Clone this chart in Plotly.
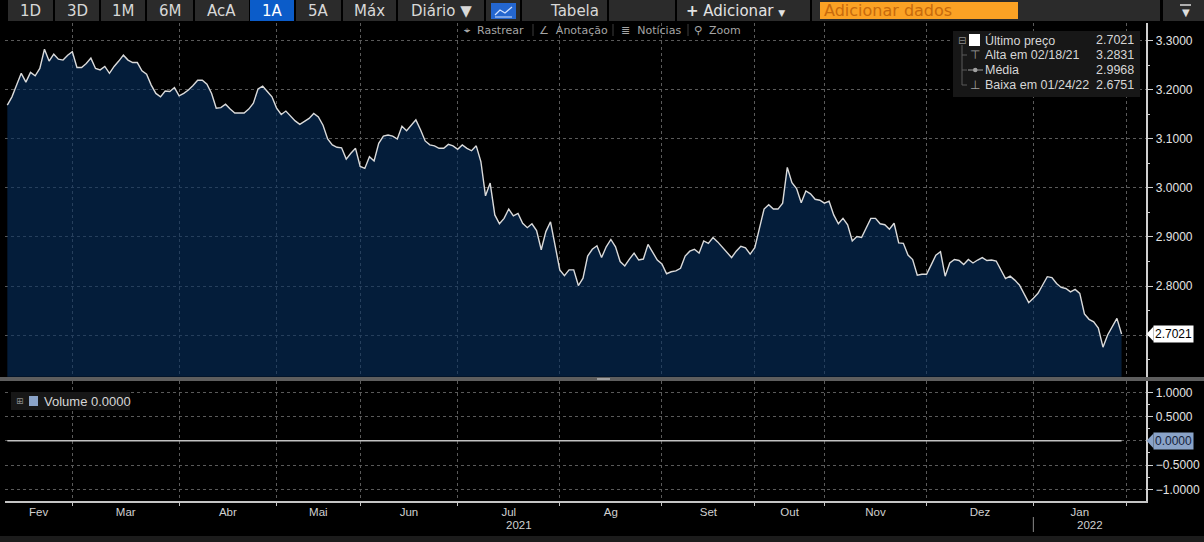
import plotly.graph_objects as go

W, H = 1204, 542

# ---------------- data ----------------
price = [
    3.169, 3.186, 3.210, 3.234, 3.216, 3.236, 3.229, 3.244, 3.2831, 3.259,
    3.273, 3.263, 3.261, 3.271, 3.278, 3.246, 3.246, 3.254, 3.265, 3.244,
    3.241, 3.248, 3.234, 3.248, 3.259, 3.271, 3.261, 3.256, 3.256, 3.239,
    3.232, 3.210, 3.193, 3.186, 3.198, 3.197, 3.205, 3.188, 3.193, 3.200,
    3.209, 3.220, 3.220, 3.212, 3.193, 3.163, 3.164, 3.171, 3.161, 3.153,
    3.153, 3.153, 3.161, 3.173, 3.202, 3.208, 3.197, 3.186, 3.163, 3.150,
    3.157, 3.146, 3.137, 3.130,
    3.136, 3.142, 3.152, 3.145, 3.128, 3.100, 3.088, 3.083, 3.082, 3.059,
    3.071, 3.081, 3.044, 3.040, 3.064, 3.055, 3.091, 3.106, 3.108, 3.106,
    3.100, 3.126, 3.117, 3.129, 3.139, 3.119, 3.096, 3.088, 3.086, 3.081,
    3.081, 3.089, 3.086, 3.079, 3.088, 3.081, 3.076, 3.086, 3.054, 2.984,
    3.010, 2.945, 2.927, 2.938, 2.957, 2.943, 2.948, 2.928, 2.919, 2.927,
    2.913, 2.874, 2.911, 2.931, 2.880, 2.833, 2.821, 2.833, 2.833, 2.801,
    2.816, 2.861,
    2.875, 2.882, 2.858, 2.880, 2.895, 2.880, 2.850, 2.841, 2.855, 2.867,
    2.853, 2.855, 2.885, 2.870, 2.853, 2.845, 2.825, 2.829, 2.831, 2.836,
    2.861, 2.871, 2.875, 2.867, 2.892, 2.887, 2.899, 2.890, 2.880, 2.868,
    2.858, 2.871, 2.881, 2.878, 2.865, 2.878, 2.918, 2.957, 2.966, 2.957,
    2.957, 2.969, 3.042, 3.011, 2.999, 2.970, 2.994, 2.988, 2.977, 2.975,
    2.969, 2.973, 2.945, 2.927, 2.938, 2.925, 2.892, 2.901, 2.899, 2.918,
    2.938, 2.938, 2.927,
    2.925, 2.916, 2.928, 2.888, 2.887, 2.863, 2.854, 2.822, 2.824, 2.824,
    2.843, 2.863, 2.870, 2.820, 2.847, 2.854, 2.852, 2.844, 2.854, 2.847,
    2.853, 2.858, 2.852, 2.853, 2.851, 2.832, 2.815, 2.820, 2.812, 2.802,
    2.785, 2.766, 2.775, 2.785, 2.802, 2.819, 2.817, 2.805, 2.797, 2.795,
    2.788, 2.793, 2.785, 2.743, 2.732, 2.727, 2.714, 2.6751, 2.700, 2.718,
    2.734, 2.7021,
]
volume = [0.0] * len(price)
days = list(range(len(price)))

month_labels = ["Fev", "Mar", "Abr", "Mai", "Jun", "Jul", "Ag", "Set", "Out", "Nov", "Dez", "Jan"]
month_starts = [14, 37, 58, 76, 97, 119, 141, 161, 176, 198, 221, 241]  # first trading day of Mar..Feb
year_labels = ["2021", "2022"]
price_ticks = [2.7, 2.8, 2.9, 3.0, 3.1, 3.2, 3.3]
volume_ticks = [-1.0, -0.5, 0.0, 0.5, 1.0]

last_price = 2.7021
legend_rows = [
    ("Último preço", "2.7021"),
    ("Alta em 02/18/21", "3.2831"),
    ("Média", "2.9968"),
    ("Baixa em 01/24/22", "2.6751"),
]
volume_legend = "Volume 0.0000"
period_buttons = ["1D", "3D", "1M", "6M", "AcA", "1A", "5A", "Máx", "Diário ▼"]
active_button = "1A"
tool_items = ["⌖  Rastrear", "∠  Anotação", "≣  Notícias", "⚲  Zoom"]

# ---------------- layout helpers ----------------
def fx(p):
    return p / W

def fy(p):
    return 1 - p / H

X_RANGE = [-0.5, 245.2]
Y_RANGE = [2.6149, 3.3367]
Y2_RANGE = [-1.234, 1.234]
GRID = "#5a5a5a"
AXC = "#cfcfcf"
FONT = "Liberation Sans"
UIFONT = "DejaVu Sans"

centers = [(X_RANGE[0] + month_starts[0]) / 2] + [
    (a + b) / 2 for a, b in zip(month_starts[:-1], month_starts[1:])
]
year_split = month_starts[-2]
year_centers = [(X_RANGE[0] + year_split) / 2, (year_split + X_RANGE[1]) / 2]

fig = go.Figure()
fig.add_trace(go.Scatter(
    x=days, y=price, mode="lines",
    line=dict(color="#dadada", width=1.4),
    fill="tozeroy", fillcolor="rgba(6,46,94,0.62)",
    xaxis="x", yaxis="y", hoverinfo="skip",
))
fig.add_trace(go.Scatter(
    x=days, y=volume, mode="lines",
    line=dict(color="#c2c2c2", width=1.5),
    xaxis="x2", yaxis="y2", hoverinfo="skip",
))

shapes = []
annotations = []

def rect(x0, y0, x1, y1, color, line=None):
    shapes.append(dict(type="rect", xref="paper", yref="paper",
                       x0=fx(x0), x1=fx(x1), y0=fy(y1), y1=fy(y0),
                       fillcolor=color, line=dict(width=0) if line is None else line,
                       layer="above"))

def seg(x0, y0, x1, y1, color, width=1):
    shapes.append(dict(type="line", xref="paper", yref="paper",
                       x0=fx(x0), x1=fx(x1), y0=fy(y0), y1=fy(y1),
                       line=dict(color=color, width=width), layer="above"))

def text(x, y, s, size=12, color="#d4d4d4", xanchor="center", family=FONT, **kw):
    annotations.append(dict(xref="paper", yref="paper", x=fx(x), y=fy(y), text=s,
                            showarrow=False, xanchor=xanchor, yanchor="middle",
                            font=dict(family=family, size=size, color=color), **kw))

# ---- toolbar ----
btn_bounds = [(8, 53), (55, 99), (101, 145), (147, 193), (195, 249), (250, 294),
              (296, 341), (343, 396), (398, 484)]
for lab, (a, b) in zip(period_buttons, btn_bounds):
    active = lab == active_button
    rect(a, 0, b, 21, "#0b5cc9" if active else "#2b2b2b")
    text((a + b) / 2, 11, lab, size=15, color="#ffffff" if active else "#d8d8d8", family=UIFONT)
rect(486, 0, 520, 21, "#2b2b2b")
rect(491, 3, 516, 19, "#2466cf")
shapes.append(dict(type="path", xref="paper", yref="paper",
                   path=f"M{fx(495)},{fy(15)} L{fx(500)},{fy(10)} L{fx(505)},{fy(13)} L{fx(512)},{fy(7)}",
                   line=dict(color="#cfe0ff", width=1.3), layer="above"))
seg(495, 17, 512, 17, "#cfe0ff", 1)
rect(522, 0, 607, 21, "#2b2b2b")
text(574, 11, "Tabela", size=15, color="#d8d8d8", family=UIFONT)
rect(609, 0, 675, 21, "#2b2b2b")
rect(677, 0, 810, 21, "#2b2b2b")
text(735, 11, "<b>+</b> Adicionar <span style='font-size:9px'>▼</span>", size=15, color="#e2e2e2", family=UIFONT)
rect(812, 0, 1160, 21, "#2b2b2b")
rect(820, 2, 1018, 19, "#fba224")
text(822, 11, "Adicionar dados", size=16, color="#c86a0c", xanchor="left", family=UIFONT)
rect(1163, 0, 1204, 21, "#2b2b2b")
seg(1180, 5, 1191, 5, "#dddddd", 1.5)
text(1185.5, 12, "▼", size=10, color="#dddddd", family=UIFONT)

# ---- tools row ----
tool_x = [494, 573, 651, 717]
for s, x in zip(tool_items, tool_x):
    text(x, 30, s, size=11, color="#a5a5a5", family=UIFONT)
for x in [533, 613, 688]:
    seg(x, 24, x, 36, "#3c3c3c", 1)

# ---- legend box (top right) ----
rect(953, 31, 1140, 97, "#171717")
rows_y = [40, 55, 70, 85]
for (lab, val), y in zip(legend_rows, rows_y):
    text(983, y, lab, size=12.5, color="#d6d6d6", xanchor="left")
    text(1136, y, val, size=12.5, color="#d6d6d6", xanchor="right")
text(962, 40, "⊟", size=10, color="#8a8a8a", family=UIFONT)
rect(969, 34, 980, 46, "#ffffff")
seg(962, 45, 962, 85, "#5a5a5a", 1)
for y in rows_y[1:]:
    seg(962, y, 967, y, "#5a5a5a", 1)
text(975, 55, "⊤", size=12, color="#a0a0a0", family=UIFONT)
seg(968, 70, 983, 70, "#a0a0a0", 1)
shapes.append(dict(type="circle", xref="paper", yref="paper",
                   x0=fx(973), x1=fx(977.5), y0=fy(72.2), y1=fy(67.8),
                   fillcolor="#a0a0a0", line=dict(width=0), layer="above"))
text(975, 85, "⊥", size=12, color="#a0a0a0", family=UIFONT)

# ---- last price box ----
annotations.append(dict(xref="paper", yref="y", x=fx(1153), y=last_price,
                        text=f"{last_price:.4f}", showarrow=False, xanchor="left", yanchor="middle",
                        bgcolor="#ffffff", borderpad=1,
                        font=dict(family=FONT, size=12, color="#000000")))
shapes.append(dict(type="path", xref="paper", yref="y",
                   path=f"M{fx(1146.5)},{last_price} L{fx(1153.5)},{last_price + 0.0150} "
                        f"L{fx(1153.5)},{last_price - 0.0150} Z",
                   fillcolor="#ffffff", line=dict(width=0), layer="above"))

# ---- separator bar ----
rect(0, 377, 1204, 381, "#5e5e5e")
rect(597, 378, 610, 380, "#a0a0a0")

# ---- volume legend ----
rect(11, 392, 130, 410, "#171717")
text(20, 401, "⊞", size=9, color="#8a8a8a", family=UIFONT)
rect(29, 396, 38, 406, "#8aa3c8")
text(42, 401, volume_legend, size=13, color="#d6d6d6", xanchor="left")

# ---- volume zero box ----
annotations.append(dict(xref="paper", yref="y2", x=fx(1153), y=volume[-1],
                        text=f"{volume[-1]:.4f}", showarrow=False, xanchor="left", yanchor="middle",
                        bgcolor="#8aa3c8", borderpad=1,
                        font=dict(family=FONT, size=12, color="#14223a")))
shapes.append(dict(type="path", xref="paper", yref="y2",
                   path=f"M{fx(1146.5)},0 L{fx(1153.5)},0.15 L{fx(1153.5)},-0.15 Z",
                   fillcolor="#8aa3c8", line=dict(width=0), layer="above"))

# ---- year labels ----
for lab, c in zip(year_labels, year_centers):
    annotations.append(dict(xref="x2", yref="paper", x=c, y=fy(525), text=lab,
                            showarrow=False, xanchor="center", yanchor="middle",
                            font=dict(family=FONT, size=11.5, color="#d0d0d0")))
shapes.append(dict(type="line", xref="x2", yref="paper", x0=year_split, x1=year_split,
                   y0=fy(517), y1=fy(532), line=dict(color="#8a8a8a", width=1)))

# bottom strip
rect(0, 536, 1204, 542, "#1c1c1c")

tickfont = dict(family=FONT, size=12, color="#e4e4e4")
fig.update_layout(
    width=W, height=H,
    margin=dict(l=0, r=0, t=0, b=0),
    paper_bgcolor="#000000", plot_bgcolor="#000000",
    showlegend=False, hovermode=False,
    xaxis=dict(domain=[fx(5), fx(1145.7)], range=X_RANGE, anchor="y",
               tickmode="array", tickvals=month_starts, showticklabels=False, ticks="",
               showgrid=True, gridcolor=GRID, griddash="dot", gridwidth=1,
               zeroline=False, showline=False),
    yaxis=dict(domain=[fy(376.7), fy(23)], range=Y_RANGE, anchor="x", side="right",
               tickmode="array", tickvals=price_ticks, tickformat=".4f",
               ticks="outside", ticklen=6, tickwidth=1, tickcolor=AXC,
               showline=True, linecolor=AXC, linewidth=1.5,
               showgrid=True, gridcolor=GRID, griddash="dot", gridwidth=1,
               zeroline=False, tickfont=tickfont,
               minor=dict(dtick=0.05, tick0=0, ticks="outside", ticklen=3, tickcolor=AXC, showgrid=False)),
    xaxis2=dict(domain=[fx(5), fx(1145.7)], range=X_RANGE, anchor="y2",
                tickmode="array", tickvals=centers, ticktext=month_labels, ticks="",
                showgrid=False, zeroline=False,
                showline=True, linecolor="#c4c4c4", linewidth=1.5,
                tickfont=dict(family=FONT, size=11.5, color="#d0d0d0"),
                minor=dict(tickmode="array", tickvals=month_starts, ticks="outside", ticklen=4,
                           tickcolor="#c4c4c4", showgrid=True, gridcolor=GRID, griddash="dot", gridwidth=1)),
    yaxis2=dict(domain=[fy(500.7), fy(381)], range=Y2_RANGE, anchor="x2", side="right",
                tickmode="array", tickvals=volume_ticks, tickformat=".4f",
                ticks="outside", ticklen=6, tickwidth=1, tickcolor=AXC,
                showline=True, linecolor=AXC, linewidth=1.5,
                showgrid=True, gridcolor=GRID, griddash="dot", gridwidth=1,
                zeroline=False, tickfont=tickfont,
                minor=dict(dtick=0.25, tick0=0, ticks="outside", ticklen=3, tickcolor=AXC, showgrid=False)),
    shapes=shapes,
    annotations=annotations,
)

fig.write_html("out.html", config={"displayModeBar": False},
               post_script="document.body.style.margin='0';document.body.style.overflow='hidden';")
